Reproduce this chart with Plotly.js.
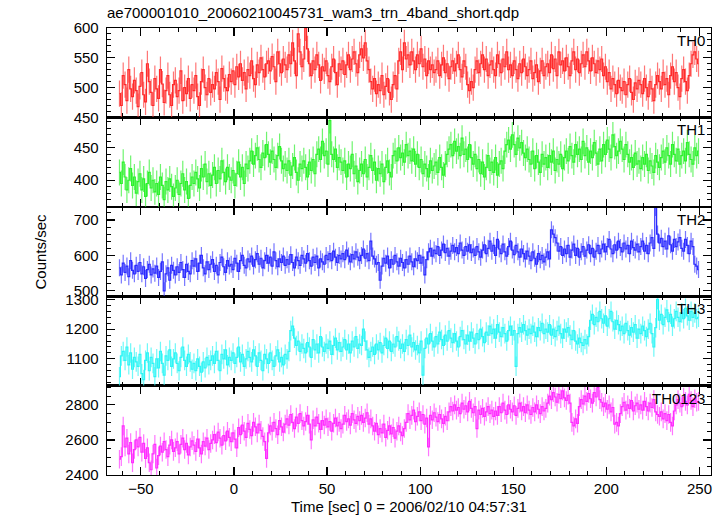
<!DOCTYPE html>
<html>
<head>
<meta charset="utf-8">
<script src="https://cdn.plot.ly/plotly-3.0.1.min.js"></script>
<style>html,body{margin:0;padding:0;background:#fff;}#chart{width:724px;height:516px;}</style>
</head>
<body>
<div id="chart"></div>
<script>
// Time bins: 1 s wide, centres from -61.5 s to 249.5 s (0 = 2006/02/10 04:57:31)
const tStart = -61.5;
const binSize = 1;

const bandNames = ["TH0", "TH1", "TH2", "TH3", "TH0123"];

const th0 = [
490,470,520,505,478,530,498,485,512,495,
468,502,525,488,476,540,510,492,470,515,
498,482,530,506,475,495,520,488,470,505,
512,485,495,528,478,500,490,515,482,505,
495,520,485,470,510,530,500,488,515,492,
505,498,525,510,480,532,515,500,495,522,
510,528,505,535,518,540,512,525,498,530,
520,545,515,505,538,525,550,530,518,540,
545,528,552,535,510,560,540,525,548,538,
530,555,540,575,545,520,590,560,535,548,
600,565,540,520,545,530,555,538,512,535,
528,545,520,510,535,548,525,505,540,530,
545,522,538,555,530,548,560,540,525,555,
565,550,575,545,530,510,498,515,490,505,
495,520,488,502,515,492,480,505,520,498,
545,560,530,575,548,555,538,560,545,530,
555,540,565,535,548,520,545,530,538,525,
530,545,520,538,550,525,540,515,535,545,
528,540,555,530,518,545,535,505,495,510,
500,530,545,525,540,555,530,548,520,538,
545,530,520,555,540,525,548,535,560,530,
538,520,545,530,515,540,525,548,535,520,
530,545,515,525,538,510,528,545,520,535,
540,525,555,532,548,520,560,538,545,528,
550,535,520,545,560,530,548,525,540,555,
535,560,545,528,550,540,525,545,530,548,
520,535,510,525,498,515,505,490,512,500,
495,510,488,505,515,492,480,508,498,512,
505,490,515,500,485,510,498,478,505,520,
510,498,525,505,515,488,520,535,510,525,
500,485,515,530,510,495,520,540,555,560,
548,540];

const th1 = [
412,395,428,405,385,400,418,392,405,380,
398,410,385,402,375,395,412,388,400,382,
395,378,405,392,370,398,385,402,390,375,
388,400,378,395,410,385,398,372,392,405,
395,412,402,388,418,405,425,398,410,392,
408,420,395,415,402,430,412,398,420,405,
400,415,392,410,428,405,420,395,425,418,
430,445,425,438,450,432,420,442,435,455,
440,428,445,432,420,438,452,430,418,425,
415,430,408,422,435,412,400,425,418,430,
420,405,428,415,432,410,440,448,432,460,
438,445,425,492,440,432,448,420,435,428,
415,430,405,425,418,440,410,422,398,415,
425,410,432,405,420,438,415,428,400,418,
410,425,398,420,430,412,405,438,445,430,
450,435,442,428,455,438,445,430,448,425,
440,420,432,410,425,418,405,430,415,422,
428,412,435,420,408,425,440,448,455,438,
460,445,452,438,465,440,448,432,455,435,
425,440,418,432,410,428,405,420,438,415,
428,412,435,408,425,430,418,445,455,462,
448,470,455,440,465,450,458,442,435,448,
432,425,445,418,438,428,412,440,425,435,
420,438,428,445,415,432,425,440,418,435,
445,430,452,438,428,455,440,448,432,460,
438,450,428,445,435,458,442,425,448,430,
455,440,462,448,435,470,452,438,445,460,
448,432,455,440,428,435,420,442,425,430,
418,435,425,440,415,430,422,412,438,428,
420,435,445,428,450,438,425,455,440,430,
448,425,438,445,430,458,440,432,425,450,
438,445];

const th2 = [
565,545,578,552,570,540,585,558,548,572,
555,580,548,568,535,560,575,545,562,550,
570,538,555,582,500,548,565,530,572,558,
545,568,552,580,560,538,575,555,548,585,
570,590,555,578,600,565,548,582,560,575,
588,555,572,545,580,595,568,552,585,570,
575,560,592,578,555,585,600,572,565,590,
582,598,570,588,605,575,592,565,585,600,
578,595,570,610,585,568,590,580,598,572,
588,575,602,580,565,595,585,572,600,590,
578,605,585,570,595,580,598,565,590,582,
575,600,588,605,585,612,595,580,600,590,
605,588,615,598,582,602,590,610,595,585,
600,618,592,605,585,640,598,590,575,580,
530,570,592,578,598,565,588,575,600,582,
570,592,580,565,588,575,598,582,568,590,
585,600,578,595,545,588,610,620,598,615,
605,625,600,615,632,608,620,598,612,628,
610,622,605,635,615,600,625,612,630,608,
618,600,625,610,595,615,630,605,620,640,
612,628,600,645,618,605,632,610,598,625,
640,615,602,628,610,595,618,605,590,612,
598,585,610,592,575,605,588,600,582,595,
610,590,672,660,650,635,612,625,600,618,
605,628,595,615,632,600,620,595,610,625,
598,615,630,605,620,595,612,628,605,618,
632,610,625,645,618,605,630,615,640,622,
610,635,618,628,605,640,622,615,632,610,
625,640,612,628,605,635,650,620,735,660,
635,648,625,640,618,655,630,612,645,625,
638,650,620,612,645,628,605,640,625,575,
570,560];

const th3 = [
1040,1110,1125,1095,1140,1080,1120,1065,1105,1090,
1075,1115,1050,1030,1095,1120,1060,1105,1085,1040,
1100,1070,1125,1085,1045,1110,1095,1130,1075,1100,
1120,1085,1060,1105,1140,1095,1075,1115,1090,1065,
1085,1060,1100,1075,1055,1090,1070,1105,1080,1095,
1110,1085,1125,1095,1060,1115,1100,1130,1080,1105,
1095,1120,1085,1105,1140,1090,1115,1075,1100,1125,
1105,1090,1130,1110,1075,1120,1095,1060,1115,1100,
1085,1120,1095,1075,1110,1130,1090,1105,1080,1115,
1100,1125,1195,1210,1170,1145,1160,1125,1150,1135,
1120,1155,1140,1105,1165,1130,1150,1120,1175,1140,
1125,1150,1135,1160,1115,1145,1170,1130,1155,1125,
1140,1165,1130,1150,1120,1160,1140,1175,1135,1150,
1145,1200,1160,1130,1105,1125,1140,1115,1150,1130,
1155,1120,1145,1170,1135,1160,1125,1150,1140,1175,
1160,1135,1150,1125,1165,1145,1180,1140,1155,1130,
1145,1120,1160,1045,1135,1170,1150,1185,1160,1140,
1175,1150,1190,1165,1145,1180,1160,1195,1170,1155,
1185,1160,1140,1175,1195,1165,1150,1180,1160,1190,
1170,1150,1185,1165,1200,1175,1155,1190,1180,1210,
1185,1200,1170,1215,1190,1175,1205,1185,1160,1195,
1210,1180,1195,1075,1185,1205,1190,1215,1195,1180,
1200,1185,1210,1190,1175,1205,1195,1220,1185,1200,
1190,1215,1180,1200,1175,1195,1210,1185,1170,1200,
1190,1205,1180,1165,1195,1160,1150,1170,1155,1145,
1165,1150,1175,1230,1250,1215,1240,1225,1260,1235,
1220,1245,1210,1235,1260,1225,1200,1230,1215,1195,
1210,1185,1220,1195,1180,1205,1190,1215,1170,1200,
1185,1210,1195,1175,1200,1220,1185,1140,1205,1300,
1230,1250,1215,1240,1265,1225,1250,1210,1235,1260,
1240,1225,1255,1235,1270,1245,1230,1260,1240,1255,
1235,1240];

const th0123 = [
2490,2505,2680,2560,2610,2520,2585,2470,2545,2600,
2560,2615,2530,2580,2495,2555,2470,2430,2520,2575,
2440,2510,2565,2530,2590,2545,2505,2570,2600,2535,
2555,2590,2520,2575,2610,2545,2580,2515,2560,2595,
2570,2535,2605,2555,2520,2590,2565,2610,2545,2580,
2600,2630,2585,2645,2610,2570,2625,2595,2650,2615,
2590,2640,2605,2555,2670,2630,2685,2650,2615,2695,
2660,2625,2700,2675,2640,2690,2655,2620,2590,2495,
2640,2680,2650,2700,2665,2630,2710,2675,2645,2690,
2720,2685,2745,2700,2665,2730,2695,2750,2710,2680,
2705,2740,2690,2600,2715,2680,2730,2695,2660,2710,
2685,2720,2675,2705,2650,2695,2725,2680,2700,2665,
2690,2740,2705,2720,2685,2750,2715,2695,2735,2710,
2740,2700,2725,2755,2690,2720,2680,2650,2695,2630,
2665,2640,2690,2615,2655,2680,2635,2670,2610,2650,
2680,2645,2625,2665,2700,2750,2715,2740,2770,2705,
2735,2760,2710,2745,2690,2725,2560,2740,2715,2755,
2730,2705,2745,2720,2695,2735,2710,2760,2790,2765,
2800,2770,2785,2750,2810,2775,2795,2760,2820,2780,
2755,2790,2665,2770,2745,2780,2735,2760,2790,2750,
2770,2735,2765,2740,2790,2755,2810,2770,2745,2800,
2775,2760,2795,2740,2780,2810,2765,2790,2755,2800,
2770,2745,2785,2760,2800,2775,2750,2790,2765,2780,
2810,2850,2830,2870,2845,2815,2860,2835,2880,2840,
2825,2855,2810,2700,2680,2720,2695,2790,2830,2805,
2850,2820,2865,2835,2810,2870,2845,2900,2830,2815,
2790,2810,2775,2800,2760,2785,2690,2700,2680,2750,
2790,2815,2770,2800,2780,2825,2765,2795,2810,2775,
2800,2770,2820,2790,2765,2810,2785,2830,2760,2745,
2735,2760,2720,2750,2710,2745,2700,2680,2765,2800,
2830,2810,2790,2845,2820,2800,2860,2825,2790,2835,
2815,2820];

// typical 1-sigma error per band (counts/sec)
const bandErrors = [22, 20, 24, 33, 53];

const times = th0.map((_, i) => tStart + i * binSize);
const series = [th0, th1, th2, th3, th0123];

// panel styling (top to bottom)
const lineColors = ["#ff2a2a", "#2cf22c", "#2a2aff", "#2cf5f5", "#ff2cff"];
const errColors = ["rgba(255,60,60,0.7)", "rgba(50,240,50,0.7)", "rgba(60,60,255,0.7)", "rgba(50,245,245,0.7)", "rgba(255,60,255,0.7)"];
const yRanges = [[450, 600], [359, 497], [485, 737], [1010, 1311], [2400, 2910]];
const yDticks = [50, 50, 100, 100, 200];
const yMinor = [10, 10, 20, 20, 50];

const FONT = "Liberation Sans, Arial, Helvetica, sans-serif";
const nP = 5;
const traces = [];
const layout = {
  width: 724, height: 516,
  margin: {l: 107, r: 13, t: 28, b: 41},
  paper_bgcolor: "#fff", plot_bgcolor: "#fff",
  showlegend: false,
  font: {family: FONT, size: 15, color: "#000"},
  title: {
    text: "ae700001010_20060210045731_wam3_trn_4band_short.qdp",
    x: 0, xref: "paper", xanchor: "left",
    y: 1 - 13 / 516, yref: "container", yanchor: "middle",
    font: {family: FONT, size: 15, color: "#000"}
  },
  annotations: []
};

for (let p = 0; p < nP; p++) {
  const k = nP - p; // axis index: bottom panel = 1
  const sfx = k === 1 ? "" : String(k);
  traces.push({
    type: "scatter", mode: "lines",
    x: times, y: series[p],
    xaxis: "x" + sfx, yaxis: "y" + sfx,
    line: {color: lineColors[p], width: 1.2, shape: "hvh"},
    error_y: {type: "constant", value: bandErrors[p], color: errColors[p], thickness: 1.2, width: 0},
    hoverinfo: "skip"
  });
  const d0 = (k - 1) / nP, d1 = k / nP;
  layout["yaxis" + sfx] = {
    domain: [d0, d1], range: yRanges[p], dtick: yDticks[p], tick0: 0,
    anchor: "x" + sfx,
    ticks: "inside", ticklen: 8, tickwidth: 1.2, tickcolor: "#000",
    minor: {dtick: yMinor[p], ticks: "inside", ticklen: 4, tickwidth: 1, tickcolor: "#000"},
    showline: true, linecolor: "#000", linewidth: 1.3, mirror: "allticks",
    showgrid: false, zeroline: false,
    tickfont: {family: FONT, size: 15, color: "#000"},
    ticklabelstandoff: 4
  };
  layout["xaxis" + sfx] = {
    range: [-68.2, 256.2], dtick: 50, tick0: 0,
    anchor: "y" + sfx,
    ticks: "inside", ticklen: 8, tickwidth: 1.2, tickcolor: "#000",
    minor: {dtick: 10, ticks: "inside", ticklen: 4, tickwidth: 1, tickcolor: "#000"},
    showline: true, linecolor: "#000", linewidth: 1.3, mirror: "allticks",
    showgrid: false, zeroline: false,
    showticklabels: k === 1,
    tickfont: {family: FONT, size: 15, color: "#000"},
    ticklabelstandoff: 0
  };
  if (k !== 1) layout["xaxis" + sfx].matches = "x";
  layout.annotations.push({
    text: bandNames[p], xref: "paper", yref: "paper",
    x: 1, y: d1, xanchor: "right", yanchor: "top", xshift: -4, yshift: -2,
    showarrow: false, font: {family: FONT, size: 15, color: "#000"}
  });
}

layout.annotations.push({
  text: "Time [sec] 0 = 2006/02/10 04:57:31", xref: "paper", yref: "paper",
  x: 0.5, y: 0, xanchor: "center", yanchor: "top", yshift: -21,
  showarrow: false, font: {family: FONT, size: 15, color: "#000"}
});
layout.annotations.push({
  text: "Counts/sec", xref: "paper", yref: "paper",
  x: (40 - 107) / 604, y: 0.5, xanchor: "center", yanchor: "middle", textangle: -90,
  showarrow: false, font: {family: FONT, size: 15, color: "#000"}
});

Plotly.newPlot("chart", traces, layout, {displayModeBar: false, staticPlot: true});
</script>
</body>
</html>
